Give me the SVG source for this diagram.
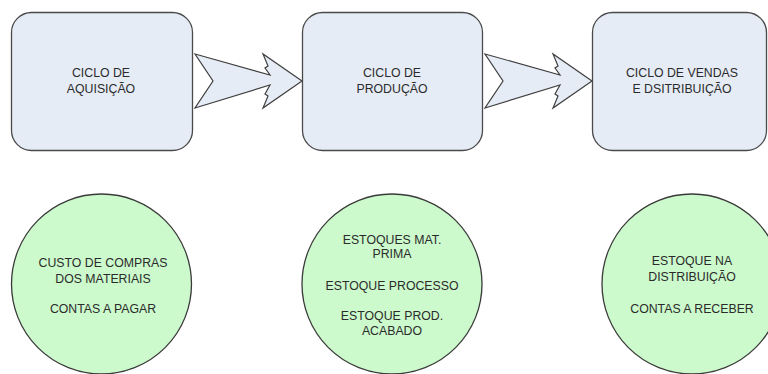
<svg xmlns="http://www.w3.org/2000/svg" width="768" height="374" viewBox="0 0 768 374">
<style>
.box{fill:#e6ecf6;stroke:#4a4a4a;stroke-width:1.3}
.circ{fill:#ccfacc;stroke:#3a3a3a;stroke-width:1.3}
.arr{fill:#e6ecf6;stroke:#3f3f3f;stroke-width:1.2;stroke-linejoin:miter}
text{font-family:"Liberation Sans",Arial,sans-serif;font-size:12.3px;fill:#2b2b2b;text-anchor:middle}
</style>
<rect width="768" height="374" fill="#fff"/>
<g id="connectors">
<path class="arr" d="M195,54 L270,75 L265,68 L268,66 L263,54 L302,81 L263,108 L268,96 L265,94 L270,85 L195,108 L213,81 Z"/>
<path class="arr" transform="translate(290,0)" d="M195,54 L270,75 L265,68 L268,66 L263,54 L302,81 L263,108 L268,96 L265,94 L270,85 L195,108 L213,81 Z"/>
</g>
<g id="ciclo-aquisicao">
<rect class="box" x="11.5" y="12.5" width="181" height="138" rx="20"/>
<text x="101" y="77">CICLO DE</text>
<text x="101" y="93">AQUISIÇÃO</text>
</g>
<g id="ciclo-producao">
<rect class="box" x="302.5" y="12.5" width="180" height="138" rx="20"/>
<text x="392" y="77">CICLO DE</text>
<text x="392" y="93">PRODUÇÃO</text>
</g>
<g id="ciclo-vendas">
<rect class="box" x="592.5" y="12.5" width="174" height="138" rx="20"/>
<text x="682" y="77">CICLO DE VENDAS</text>
<text x="682" y="93">E DSITRIBUIÇÃO</text>
</g>
<g id="custo-compras">
<circle class="circ" cx="101.5" cy="284" r="90"/>
<text x="103" y="267">CUSTO DE COMPRAS</text>
<text x="103" y="283">DOS MATERIAIS</text>
<text x="103" y="313">CONTAS A PAGAR</text>
</g>
<g id="estoques">
<circle class="circ" cx="392" cy="284" r="90"/>
<text x="392" y="244">ESTOQUES MAT.</text>
<text x="392" y="258">PRIMA</text>
<text x="392" y="290">ESTOQUE PROCESSO</text>
<text x="392" y="320">ESTOQUE PROD.</text>
<text x="392" y="335">ACABADO</text>
</g>
<g id="estoque-distribuicao">
<circle class="circ" cx="692" cy="284" r="90"/>
<text x="692" y="265">ESTOQUE NA</text>
<text x="692" y="281">DISTRIBUIÇÃO</text>
<text x="692" y="313">CONTAS A RECEBER</text>
</g>
</svg>
